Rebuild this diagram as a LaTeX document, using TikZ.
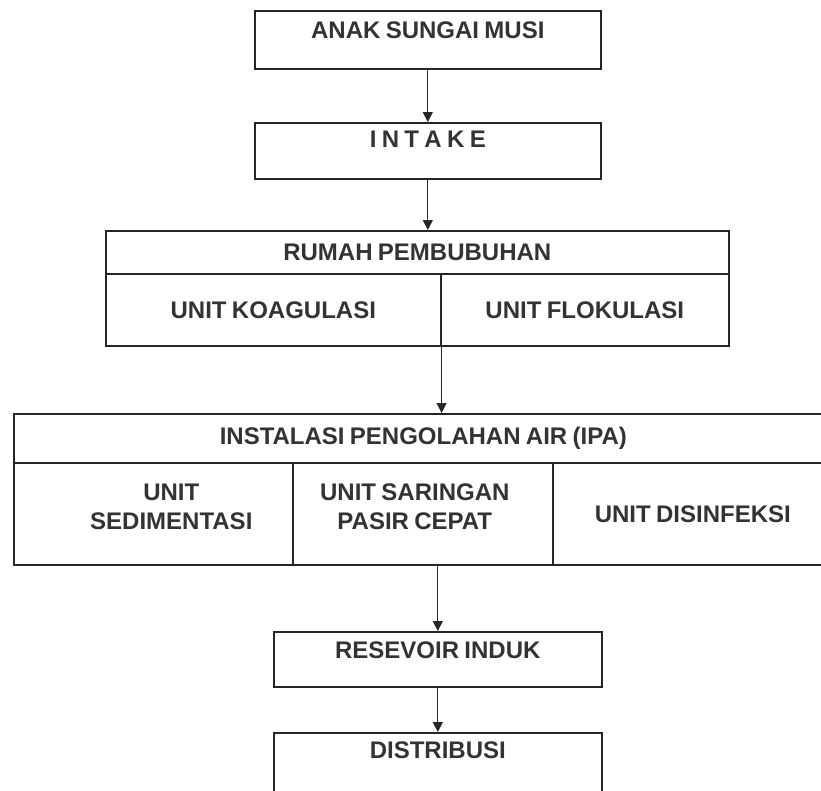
\documentclass[tikz,border=0pt]{standalone}
\usepackage{fontspec}
\setmainfont{Liberation Sans}[WordSpace=0.8]
\usetikzlibrary{arrows.meta, positioning}

\tikzset{
  blok/.style={draw=black!85, line width=1.6pt, rectangle, inner sep=0pt, anchor=north west,
    font=\bfseries\fontsize{24}{29}\selectfont, text=black!80, align=center},
  teks/.style={font=\bfseries\fontsize{24}{29}\selectfont, text=black!80, inner sep=0pt, align=center},
  panah/.style={draw=black!85, line width=1pt, -{Triangle[length=10pt,width=10pt]}},
}

\begin{document}
\begin{tikzpicture}[x=1pt, y=-1pt]
\clip (0,0) rectangle (821,790);
% sumber dan intake
\node[blok, minimum width=346pt, minimum height=58pt] (sungai) at (254,10) {};
\node[teks, below=12pt of sungai.north] (sungaiT) {ANAK SUNGAI MUSI};
\node[blok, minimum width=346pt, minimum height=56pt] (intake) at (254,122) {};
\node[teks, below=9pt of intake.north] (intakeT) {I~N~T~A~K~E};
% rumah pembubuhan
\node[blok, minimum width=623pt, minimum height=43pt] (rumah) at (105,230) {RUMAH PEMBUBUHAN};
\node[blok, minimum width=335pt, minimum height=72pt] (koag) at (105,273) {UNIT KOAGULASI};
\node[blok, minimum width=288pt, minimum height=72pt] (flok) at (440,273) {UNIT FLOKULASI};
% IPA
\node[blok, minimum width=819pt, minimum height=49pt] (ipa) at (13,413) {INSTALASI PENGOLAHAN AIR (IPA)};
\node[blok, minimum width=279pt, minimum height=102pt] (sedi) at (13,462) {};
\node[teks] (sediT) at ([xshift=18pt, yshift=7pt]sedi.center) {UNIT\\SEDIMENTASI};
\node[blok, minimum width=260pt, minimum height=102pt] (saring) at (292,462) {};
\node[teks] (saringT) at ([xshift=-8pt, yshift=7pt]saring.center) {UNIT SARINGAN\\PASIR CEPAT};
\node[blok, minimum width=280pt, minimum height=102pt] (desinf) at (552,462) {UNIT DISINFEKSI};
% reservoir dan distribusi
\node[blok, minimum width=328pt, minimum height=55pt] (resevoir) at (273,631) {};
\node[teks, below=11pt of resevoir.north] (resevoirT) {RESEVOIR INDUK};
\node[blok, minimum width=328pt, minimum height=70pt] (distribusi) at (273,732) {};
\node[teks, below=10pt of distribusi.north] (distribusiT) {DISTRIBUSI};
% panah
\draw[panah] (sungai.south) -- (intake.north);
\draw[panah] (intake.south) -- (intake.south |- rumah.north);
\draw[panah] (koag.south east) -- (koag.south east |- ipa.north);
\draw[panah] (saring.south -| resevoir.north) -- (resevoir.north);
\draw[panah] (resevoir.south) -- (distribusi.north);
\end{tikzpicture}
\end{document}
